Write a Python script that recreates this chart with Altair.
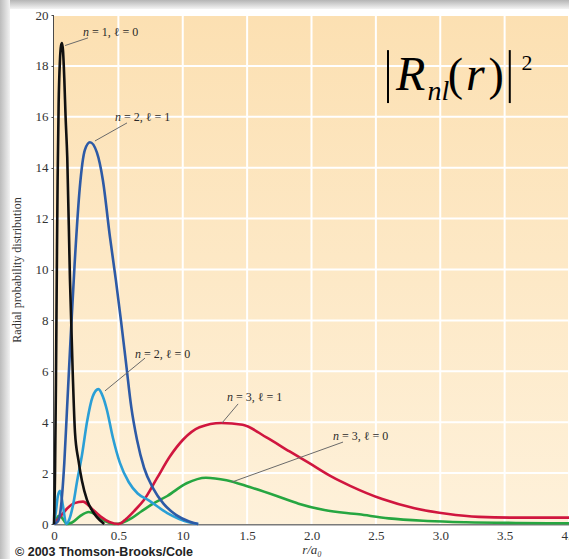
import altair as alt
import pandas as pd

# ---------------- data ----------------
# x = r/a0 (as labelled on the axis), y = radial probability distribution
n1l0_x = [0, 0.008, 0.015, 0.022, 0.028, 0.036, 0.046, 0.055, 0.062, 0.07, 0.08, 0.09, 0.103, 0.124, 0.145, 0.163, 0.19, 0.217, 0.256, 0.3, 0.333, 0.39]
n1l0_y = [0, 2.0, 5.5, 10.0, 13.5, 16.5, 18.2, 18.8, 18.9, 18.6, 17.5, 16.0, 14.4, 9.6, 6.0, 3.6, 2.5, 1.7, 0.95, 0.5, 0.27, 0.0]

n2l1_x = [0, 0.03, 0.05, 0.08, 0.1, 0.13, 0.16, 0.2, 0.24, 0.279, 0.333, 0.38, 0.434, 0.48, 0.52, 0.56, 0.6, 0.645, 0.7, 0.77, 0.85, 0.95, 1.05, 1.12]
n2l1_y = [0, 0.1, 0.5, 2.4, 4.4, 7.4, 10.2, 13.2, 14.7, 15.0, 14.6, 13.5, 11.3, 9.6, 8.0, 6.3, 4.6, 3.3, 2.2, 1.4, 0.8, 0.35, 0.1, 0.0]

n2l0_x = [0, 0.015, 0.03, 0.047, 0.07, 0.095, 0.12, 0.15, 0.18, 0.217, 0.256, 0.3, 0.345, 0.38, 0.41, 0.457, 0.512, 0.58, 0.65, 0.73, 0.88, 1.04, 1.12]
n2l0_y = [0, 0.5, 1.1, 1.3, 0.7, 0.0, 0.2, 0.8, 1.7, 2.7, 4.0, 5.0, 5.3, 5.0, 4.5, 3.4, 2.4, 1.65, 1.2, 0.95, 0.43, 0.08, 0.0]

n3l1_x = [0, 0.05, 0.1, 0.16, 0.225, 0.29, 0.36, 0.43, 0.5, 0.56, 0.63, 0.7, 0.8, 0.9, 1.0, 1.13, 1.3, 1.465, 1.65, 1.83, 1.98, 2.16, 2.3, 2.55, 2.8, 3.05, 3.3, 3.6, 4.0]
n3l1_y = [0, 0.3, 0.6, 0.82, 0.88, 0.62, 0.3, 0.08, 0.0, 0.2, 0.55, 0.95, 1.8, 2.65, 3.3, 3.8, 3.97, 3.9, 3.4, 2.85, 2.4, 1.85, 1.5, 0.98, 0.62, 0.4, 0.28, 0.25, 0.25]

n3l0_x = [0, 0.02, 0.045, 0.075, 0.1, 0.14, 0.2, 0.27, 0.33, 0.4, 0.47, 0.53, 0.6, 0.68, 0.77, 0.88, 1.03, 1.18, 1.34, 1.52, 1.73, 1.9, 2.1, 2.37, 2.6, 2.9, 3.2, 3.6, 4.0]
n3l0_y = [0, 0.22, 0.33, 0.15, 0.0, 0.06, 0.3, 0.47, 0.35, 0.1, 0.0, 0.05, 0.22, 0.5, 0.8, 1.1, 1.6, 1.82, 1.72, 1.45, 1.1, 0.8, 0.55, 0.38, 0.22, 0.12, 0.07, 0.04, 0.03]

series_names = ["n3l0", "n3l1", "n2l0", "n2l1", "n1l0"]
series_colors = ["#26a641", "#d0163f", "#2a9fd6", "#2d5aa6", "#111111"]

x_tick_values = [0, 0.5, 1.0, 1.5, 2.0, 2.5, 3.0, 3.5, 4.0]
x_tick_labels = ["0", "0.5", "10", "1.5", "2.0", "2.5", "3.0", "3.5", "4.0"]
y_tick_values = [0, 2, 4, 6, 8, 10, 12, 14, 16, 18, 20]

# curve labels: left x, y, rest-of-text, leader x1, y1, x2, y2
label_x = [0.225, 0.474, 0.629, 1.344, 2.167]
label_y = [19.33, 15.99, 6.68, 4.99, 3.46]
label_text = ["= 1, \u2113 = 0", "= 2, \u2113 = 1", "= 2, \u2113 = 0", "= 3, \u2113 = 1", "= 3, \u2113 = 0"]
lead_x1 = [0.086, 0.318, 0.396, 1.305, 1.383]
lead_y1 = [18.8, 15.05, 5.23, 3.97, 1.65]
lead_x2 = [0.264, 0.567, 0.707, 1.43, 2.245]
lead_y2 = [19.1, 15.76, 6.52, 4.72, 3.22]

# ---------------- build tables ----------------
curves = {"n1l0": (n1l0_x, n1l0_y), "n2l1": (n2l1_x, n2l1_y), "n2l0": (n2l0_x, n2l0_y),
          "n3l1": (n3l1_x, n3l1_y), "n3l0": (n3l0_x, n3l0_y)}
rows = []
for name in series_names:
    xs, ys = curves[name]
    for i, (xv, yv) in enumerate(zip(xs, ys)):
        rows.append({"series": name, "x": xv, "y": yv, "order": i})
df = pd.DataFrame(rows)

lab_df = pd.DataFrame({"x": label_x, "y": label_y, "t": label_text, "n": ["n"] * 5})
lead_df = pd.DataFrame({"x": lead_x1, "y": lead_y1, "x2": lead_x2, "y2": lead_y2})

W, H = 515, 509
xs_scale = alt.Scale(domain=[0, 4.0], nice=False)
ys_scale = alt.Scale(domain=[0, 20], nice=False)

label_expr = " : ".join(
    [f"datum.value == {v} ? '{l}'" for v, l in zip(x_tick_values, x_tick_labels)]
) + " : ''"

serif = "Liberation Serif"

# slide frame shadow (decoration outside the plot), drawn first
top_band = alt.Chart(pd.DataFrame({"a": [0]})).mark_rect(
    fill={"gradient": "linear", "x1": 0, "x2": 0, "y1": 0, "y2": 1,
          "stops": [{"offset": 0, "color": "#b5b5b5"}, {"offset": 1, "color": "#f4f4f4"}]}
).encode(x=alt.value(-54), x2=alt.value(W), y=alt.value(-15), y2=alt.value(-6))
left_band = alt.Chart(pd.DataFrame({"a": [0]})).mark_rect(
    fill={"gradient": "linear", "x1": 0, "x2": 1, "y1": 0, "y2": 0,
          "stops": [{"offset": 0, "color": "#bcbcbc"}, {"offset": 1, "color": "#f2f2f2"}]}
).encode(x=alt.value(-54), x2=alt.value(-44), y=alt.value(-15), y2=alt.value(H + 35))

bg = alt.Chart(pd.DataFrame({"x": [0], "x2": [4.0], "y": [0], "y2": [20]})).mark_rect(
    fill={"gradient": "linear", "x1": 0, "x2": 0, "y1": 0, "y2": 1,
          "stops": [{"offset": 0, "color": "#fce0b2"}, {"offset": 1, "color": "#fef1da"}]}
).encode(
    x=alt.X("x:Q", scale=xs_scale,
            axis=alt.Axis(values=x_tick_values, labelExpr=label_expr, grid=False,
                          domainColor="#7a7a7a", domainWidth=2, ticks=False,
                          labelFlush=False,
                          labelFont=serif, labelFontSize=13, labelColor="#333",
                          labelPadding=5, title="r/a\u2080", titleFont=serif,
                          titleFontStyle="italic", titleFontWeight="normal",
                          titleFontSize=13, titleColor="#333", titlePadding=1)),
    x2="x2:Q",
    y=alt.Y("y:Q", scale=ys_scale,
            axis=alt.Axis(values=y_tick_values, grid=False, domainColor="#4a4a4a",
                          domainWidth=3, tickSize=3, tickColor="#4a4a4a",
                          labelFlush=False,
                          labelFont=serif, labelFontSize=13, labelColor="#333",
                          labelPadding=3, title="Radial probability distribution",
                          titleFont=serif, titleFontWeight="normal", titleFontSize=12,
                          titleColor="#333", titlePadding=12)),
    y2="y2:Q",
)

vgrid = alt.Chart(pd.DataFrame({"v": x_tick_values[1:]})).mark_rule(
    color="white", strokeWidth=2).encode(x=alt.X("v:Q", scale=xs_scale))
hgrid = alt.Chart(pd.DataFrame({"v": y_tick_values[1:]})).mark_rule(
    color="white", strokeWidth=2).encode(y=alt.Y("v:Q", scale=ys_scale))

lines = alt.Chart(df).mark_line(strokeWidth=2.6, interpolate="monotone").encode(
    x=alt.X("x:Q", scale=xs_scale),
    y=alt.Y("y:Q", scale=ys_scale),
    color=alt.Color("series:N", scale=alt.Scale(domain=series_names, range=series_colors), legend=None),
    order="order:Q",
)

leaders = alt.Chart(lead_df).mark_rule(color="#6a6a6a", strokeWidth=1).encode(
    x=alt.X("x:Q", scale=xs_scale), x2="x2:Q",
    y=alt.Y("y:Q", scale=ys_scale), y2="y2:Q")

lab_n = alt.Chart(lab_df).mark_text(font=serif, fontSize=12, fontStyle="italic",
                                    align="left", baseline="middle", color="#2a2a2a").encode(
    x=alt.X("x:Q", scale=xs_scale), y=alt.Y("y:Q", scale=ys_scale), text="n:N")
lab_rest = alt.Chart(lab_df).mark_text(font=serif, fontSize=12, align="left", dx=9,
                                       baseline="middle", color="#2a2a2a").encode(
    x=alt.X("x:Q", scale=xs_scale), y=alt.Y("y:Q", scale=ys_scale), text="t:N")

# formula |R_nl(r)|^2
f_df = pd.DataFrame({
    "x": [2.77, 2.985, 3.118, 3.272, 3.435, 3.674],
    "y": [17.05, 16.66, 17.05, 17.05, 17.05, 17.84],
    "t": ["R", "nl", "(", "r", ")", "2"],
    "size": [48, 28, 46, 48, 46, 22],
    "style": ["italic", "italic", "normal", "italic", "normal", "normal"],
})
formula_parts = []
for _, r in f_df.iterrows():
    formula_parts.append(
        alt.Chart(pd.DataFrame([r])).mark_text(font=serif, fontSize=int(r["size"]),
                                               fontStyle=r["style"], align="center",
                                               baseline="alphabetic", color="#000").encode(
            x=alt.X("x:Q", scale=xs_scale), y=alt.Y("y:Q", scale=ys_scale), text="t:N"))
bars = alt.Chart(pd.DataFrame({"x": [2.594, 3.54], "y": [18.62, 18.62], "y2": [16.54, 16.54]})).mark_rule(
    color="#000", strokeWidth=2).encode(
    x=alt.X("x:Q", scale=xs_scale), y=alt.Y("y:Q", scale=ys_scale), y2="y2:Q")

credit = alt.Chart(pd.DataFrame({"t": ["\u00a9 2003 Thomson-Brooks/Cole"]})).mark_text(
    font="Liberation Sans", fontWeight="bold", fontSize=12.5, align="left",
    baseline="middle", color="#222").encode(x=alt.value(-39), y=alt.value(537), text="t:N")

chart = alt.layer(
    top_band, left_band, bg, vgrid, hgrid, lines, leaders, lab_n, lab_rest, bars,
    *formula_parts, credit
).properties(
    width=W, height=H,
    padding={"left": 54, "top": 15, "right": 0, "bottom": 35},
    autosize=alt.AutoSizeParams(type="none"),
    background="white",
).configure_view(stroke=None)

chart.save("out.html", embed_options={"renderer": "svg", "actions": False})
